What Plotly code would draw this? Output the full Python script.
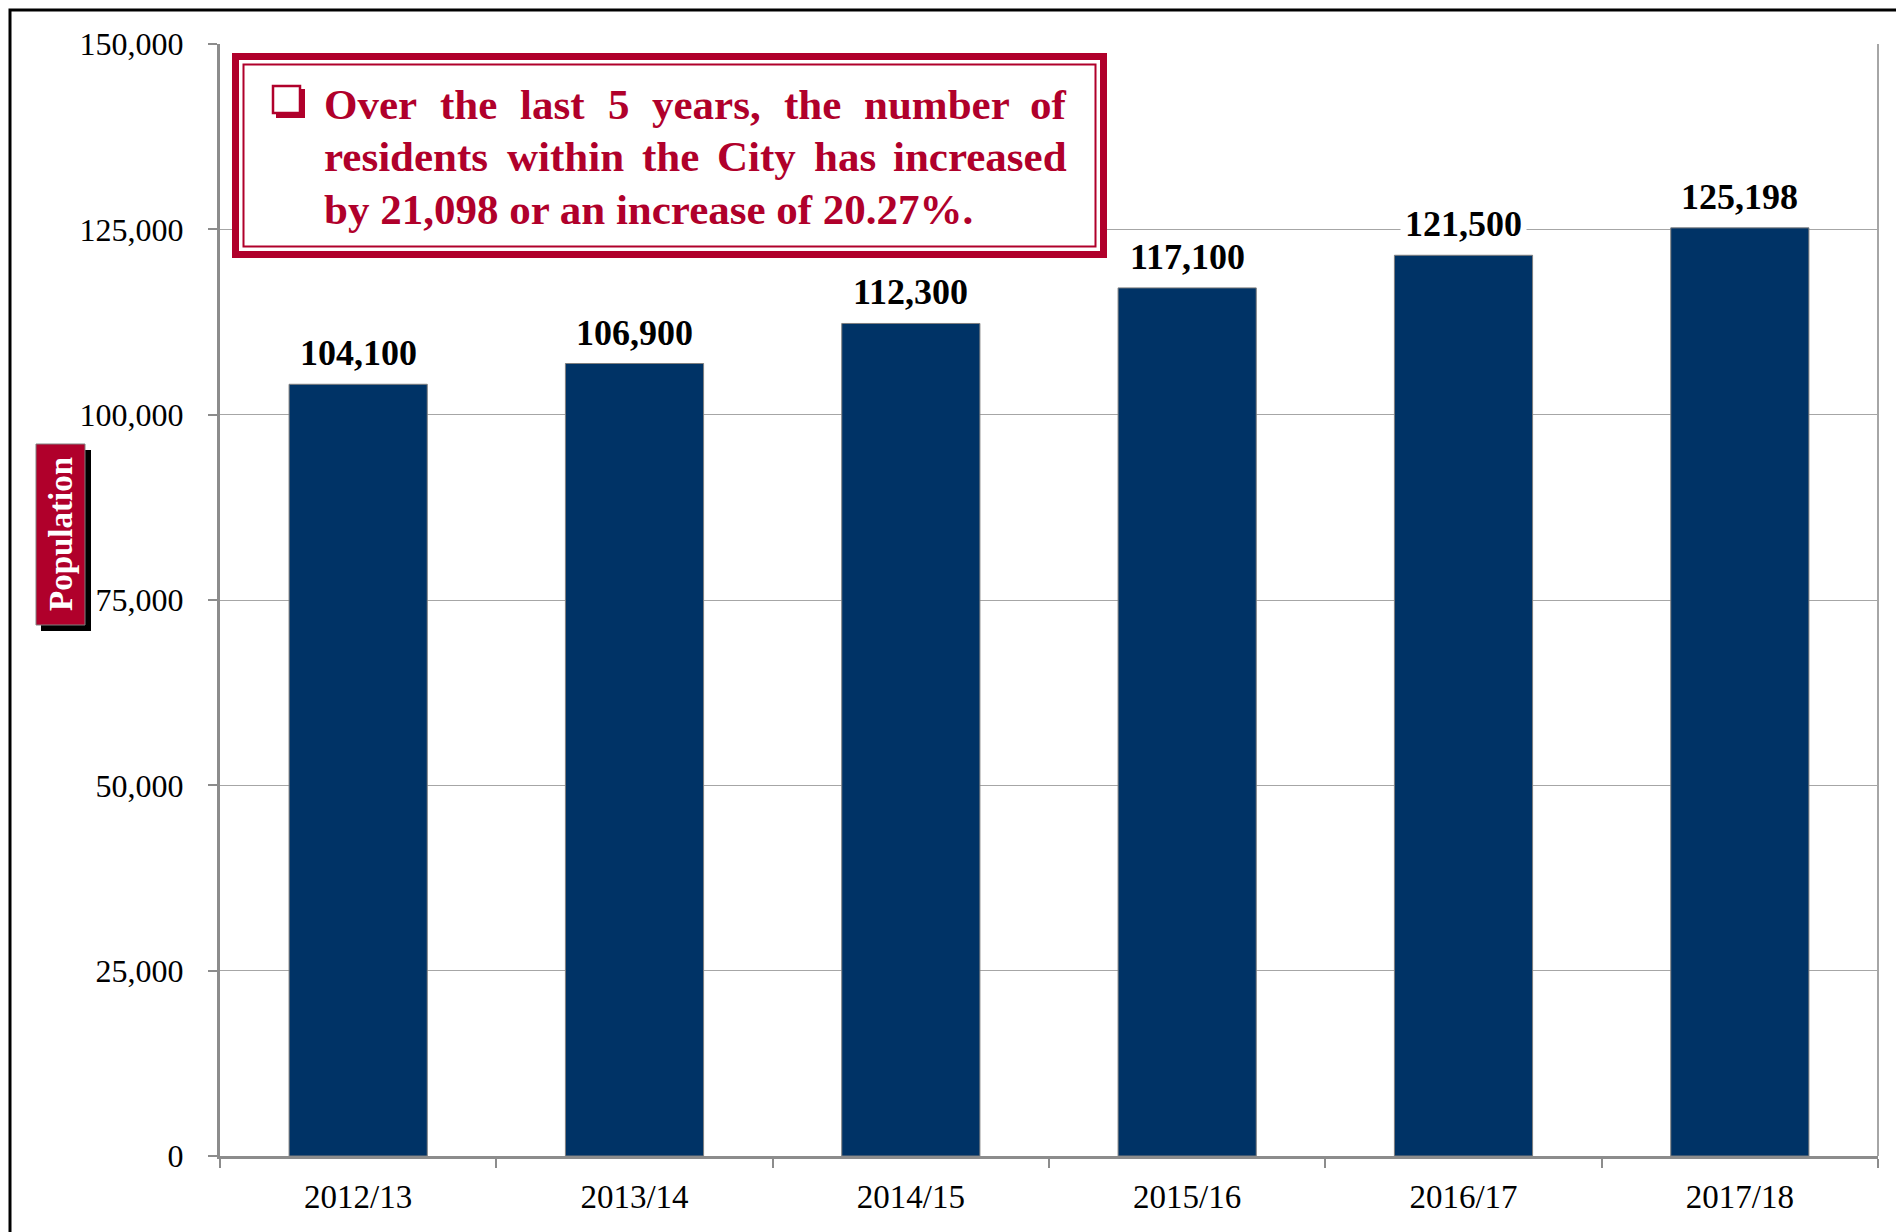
import plotly.graph_objects as go

# ---------------- data ----------------
years = ["2012/13", "2013/14", "2014/15", "2015/16", "2016/17", "2017/18"]
population = [104100, 106900, 112300, 117100, 121500, 125198]
value_labels = ["104,100", "106,900", "112,300", "117,100", "121,500", "125,198"]
y_tick_values = [0, 25000, 50000, 75000, 100000, 125000, 150000]
y_tick_labels = ["0", "25,000", "50,000", "75,000", "100,000", "125,000", "150,000"]
note_lines = [
    "Over the last 5 years, the number of",
    "residents within the City has increased",
    "by 21,098 or an increase of 20.27%.",
]
axis_title = "Population"

# ---------------- layout helpers ----------------
W, H = 1896, 1232
L, R, T, B = 220, 1878, 44, 1156
FONT = "Liberation Serif"
RED = "#B0002B"
NAVY = "#003366"
GRID = "#A6A6A6"
AXIS = "#8C8C8C"


def px(x):
    return (x - L) / (R - L)


def py(y):
    return (B - y) / (B - T)


# Times-Bold character widths (1/1000 em) for justified note text
TB = {"O": 778, "v": 500, "e": 444, "r": 444, "t": 333, "h": 556, "l": 278, "a": 500,
      "s": 389, "5": 500, "y": 500, ",": 250, "n": 556, "u": 556, "m": 833, "b": 556,
      "o": 500, "f": 333, "i": 278, "d": 556, "w": 722, "C": 722, "c": 444, " ": 250}

fig = go.Figure()
fig.add_trace(go.Bar(
    x=years, y=population,
    marker=dict(color=NAVY, line=dict(color="#7F7F7F", width=1)),
    hoverinfo="skip",
))

annotations = []
for yr, v, lab in zip(years, population, value_labels):
    annotations.append(dict(
        x=yr, y=v, xref="x", yref="y", text=lab, showarrow=False,
        yanchor="bottom", yshift=6, bgcolor="white", borderpad=4,
        font=dict(family=FONT, size=36, color="black", weight="bold"),
    ))

# note text (first two lines justified)
NOTE_SIZE = 43
X_LEFT, X_RIGHT = 323, 1068
baselines = [119, 171, 224]
for li, line in enumerate(note_lines):
    ycen = py(baselines[li] - 0.3375 * NOTE_SIZE)
    fnt = dict(family=FONT, size=NOTE_SIZE, color=RED, weight="bold")
    if li < 2:
        words = line.split(" ")
        widths = [sum(TB.get(c, 500) for c in w) * NOTE_SIZE / 1000 for w in words]
        gap = (X_RIGHT - X_LEFT - sum(widths)) / (len(words) - 1)
        xpos = X_LEFT
        for wi, (w, ww) in enumerate(zip(words, widths)):
            last = wi == len(words) - 1
            annotations.append(dict(x=px(X_RIGHT if last else xpos), y=ycen,
                                    xref="paper", yref="paper", text=w, showarrow=False,
                                    xanchor="right" if last else "left", yanchor="middle",
                                    borderpad=0, font=fnt))
            xpos += ww + gap
    else:
        annotations.append(dict(x=px(X_LEFT), y=ycen, xref="paper", yref="paper",
                                text=line, showarrow=False, xanchor="left", yanchor="middle",
                                borderpad=0, font=fnt))

# axis title label
annotations.append(dict(x=px(60.5), y=py(534.5), xref="paper", yref="paper", text=axis_title,
                        showarrow=False, textangle=-90, xanchor="center", yanchor="middle",
                        font=dict(family=FONT, size=33, color="white", weight="bold")))


def rect(x0, y0, x1, y1, **kw):
    d = dict(type="rect", xref="paper", yref="paper",
             x0=px(x0), x1=px(x1), y0=py(y1), y1=py(y0), layer="above")
    d.update(kw)
    return d


shapes = [
    # right border of plot area
    dict(type="line", xref="paper", yref="paper", x0=1, x1=1, y0=0, y1=1,
         line=dict(color=GRID, width=2), layer="above"),
    # note box
    rect(232, 53, 1107, 258, fillcolor=RED, line=dict(width=0)),
    rect(239, 60, 1100, 251, fillcolor="white", line=dict(width=0)),
    rect(243.5, 64.5, 1095.5, 246.5, fillcolor="rgba(0,0,0,0)", line=dict(color=RED, width=2)),
    # bullet
    rect(276, 89, 305, 118, fillcolor=RED, line=dict(width=0)),
    rect(273, 86, 300, 113, fillcolor="white", line=dict(color=RED, width=2.5)),
    # population tag
    rect(41, 450, 91, 631, fillcolor="black", line=dict(width=0)),
    rect(36, 444, 85, 625, fillcolor=RED, line=dict(color="#808080", width=1)),
    # outer frame
    rect(10, 10, 1960, 1300, fillcolor="rgba(0,0,0,0)", line=dict(color="black", width=3)),
]

fig.update_layout(
    width=W, height=H,
    margin=dict(l=L, r=W - R, t=T, b=H - B, pad=0),
    paper_bgcolor="white", plot_bgcolor="white",
    showlegend=False, bargap=0.5,
    annotations=annotations, shapes=shapes,
    font=dict(family=FONT, color="black"),
    xaxis=dict(
        type="category", tickson="boundaries", ticks="outside", ticklen=9,
        tickwidth=2, tickcolor=AXIS, showline=True, linecolor=AXIS, linewidth=3,
        showgrid=False, tickfont=dict(family=FONT, size=33, color="black"),
        ticklabelstandoff=9,
    ),
    yaxis=dict(
        range=[0, 150000], tickvals=y_tick_values, ticktext=y_tick_labels,
        ticks="outside", ticklen=9, tickwidth=2, tickcolor=AXIS,
        showline=True, linecolor=AXIS, linewidth=3, zeroline=False,
        showgrid=True, gridcolor=GRID, gridwidth=1,
        tickfont=dict(family=FONT, size=32, color="black"),
        ticklabelstandoff=18,
    ),
)

fig.write_html("out.html", config={"displayModeBar": False},
               post_script="document.body.style.margin='0';document.body.style.overflow='hidden';")
